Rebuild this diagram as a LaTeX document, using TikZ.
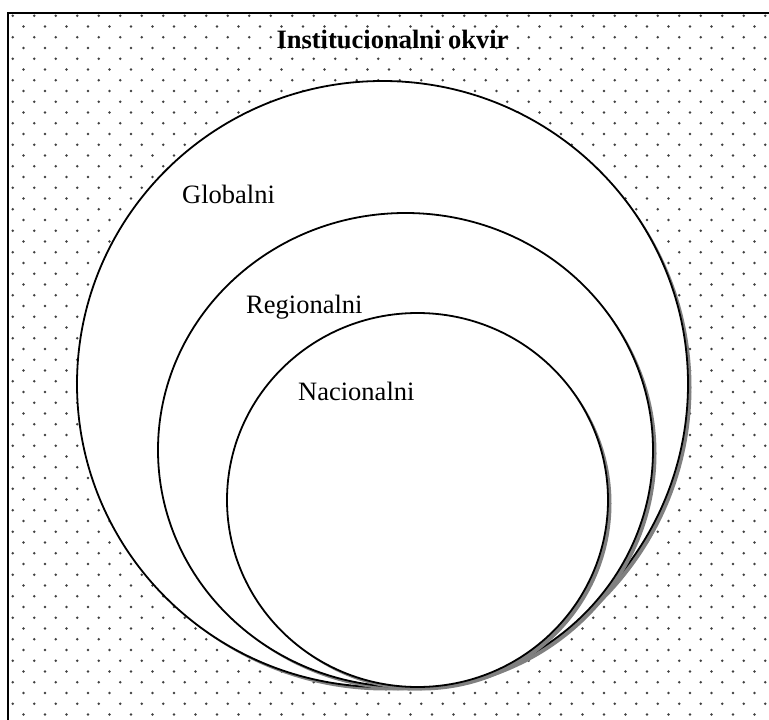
\documentclass[tikz,border=0pt]{standalone}
\usepackage{fontspec}
\setmainfont{Liberation Serif}
\begin{document}
\begin{tikzpicture}[x=1pt,y=-1pt,
  dotc/.style={fill=black!75},
  ring/.style={fill=white,draw=black,line width=1.8pt},
  shade/.style={fill=black!50},
  lbl/.style={font=\fontsize{26.5}{30}\selectfont,inner sep=0pt,anchor=base west},
  ttl/.style={font=\fontsize{26.5}{30}\selectfont\bfseries,inner sep=0pt,anchor=base}]
\useasboundingbox (0,0) rectangle (769,720);
\fill[white] (0,0) rectangle (769,720);
% dotted background
\foreach \j in {0,...,66}{
  \pgfmathsetmacro\yy{15.7+10.75*\j}
  \pgfmathsetmacro\off{mod(\j,2)*10.75}
  \foreach \i in {0,...,35}{
    \fill[dotc] ({12.7+\off+21.5*\i},\yy) circle (1.35pt);
  }
}
% frame (left and top edges visible)
\draw[line width=2pt] (8.3,722) -- (8.3,12.5) -- (771,12.5);
% global
\fill[shade] (386,387.5) ellipse [x radius=305.5pt, y radius=303pt];
\draw[ring] (382.5,384) ellipse [x radius=305.5pt, y radius=303pt];
% regional
\fill[shade] (409,453.5) ellipse [x radius=247.5pt, y radius=237pt];
\draw[ring] (405.5,450) ellipse [x radius=247.5pt, y radius=237pt];
% national
\fill[shade] (421,503.5) ellipse [x radius=190.5pt, y radius=187pt];
\draw[ring] (417.5,500) ellipse [x radius=190.5pt, y radius=187pt];
% labels
\node[ttl] (title) at (392.5,48) {Institucionalni okvir};
\node[lbl] (glob) at (182,203) {Globalni};
\node[lbl] (reg) at (246,313) {Regionalni};
\node[lbl] (nac) at (298,400.5) {Nacionalni};
\end{tikzpicture}
\end{document}
